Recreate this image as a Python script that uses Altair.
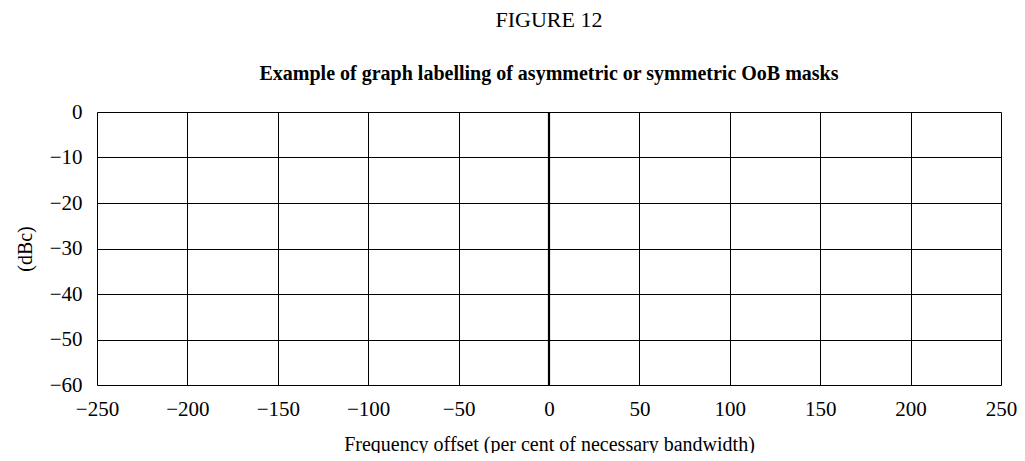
import altair as alt
import pandas as pd

x_ticks = [-250, -200, -150, -100, -50, 0, 50, 100, 150, 200, 250]
y_ticks = [0, -10, -20, -30, -40, -50, -60]
zero_line = [0]

FONT = "Liberation Serif"

base_df = pd.DataFrame({"x": zero_line})

x_scale = alt.Scale(domain=[-250, 250], nice=False, zero=False)
y_scale = alt.Scale(domain=[-60, 0], nice=False, zero=False)

rule = alt.Chart(base_df).mark_rule(color="black", strokeWidth=2.2).encode(
    x=alt.X("x:Q", scale=x_scale,
            axis=alt.Axis(values=x_ticks, grid=True, gridColor="black", gridWidth=1,
                          gridOpacity=1, ticks=False, domain=False, labelFlush=False,
                          labelOverlap=False, labelFont=FONT, labelFontSize=21,
                          labelColor="black", labelPadding=13,
                          title="Frequency offset (per cent of necessary bandwidth)",
                          titleFont=FONT, titleFontSize=20, titleFontWeight="normal",
                          titleColor="black", titlePadding=15)),
    y=alt.value(0),
    y2=alt.value(273),
)

grid_y = alt.Chart(pd.DataFrame({"y": y_ticks})).mark_rule(opacity=0).encode(
    y=alt.Y("y:Q", scale=y_scale,
            axis=alt.Axis(values=y_ticks, grid=True, gridColor="black", gridWidth=1,
                          gridOpacity=1, ticks=False, domain=False,
                          labelFont=FONT, labelFontSize=21, labelColor="black",
                          labelPadding=15, title="(dBc)", titleFont=FONT,
                          titleFontSize=20, titleFontWeight="normal", titleColor="black",
                          titlePadding=14)),
)

chart = alt.layer(grid_y, rule).properties(
    width=904,
    height=273,
    padding={"left": 89, "top": 104, "right": 16, "bottom": 68},
    autosize=alt.AutoSizeParams(type="none"),
    title=alt.TitleParams(
        text="FIGURE 12",
        subtitle="Example of graph labelling of asymmetric or symmetric OoB masks",
        font=FONT, fontSize=22, fontWeight="normal", color="black",
        subtitleFont=FONT, subtitleFontSize=20, subtitleFontWeight="bold",
        subtitleColor="black", subtitlePadding=32, anchor="middle", offset=16,
    ),
).configure_view(stroke="black", strokeWidth=2.2).configure(background="white")

chart.save("out.html", embed_options={"renderer": "svg", "actions": False})
